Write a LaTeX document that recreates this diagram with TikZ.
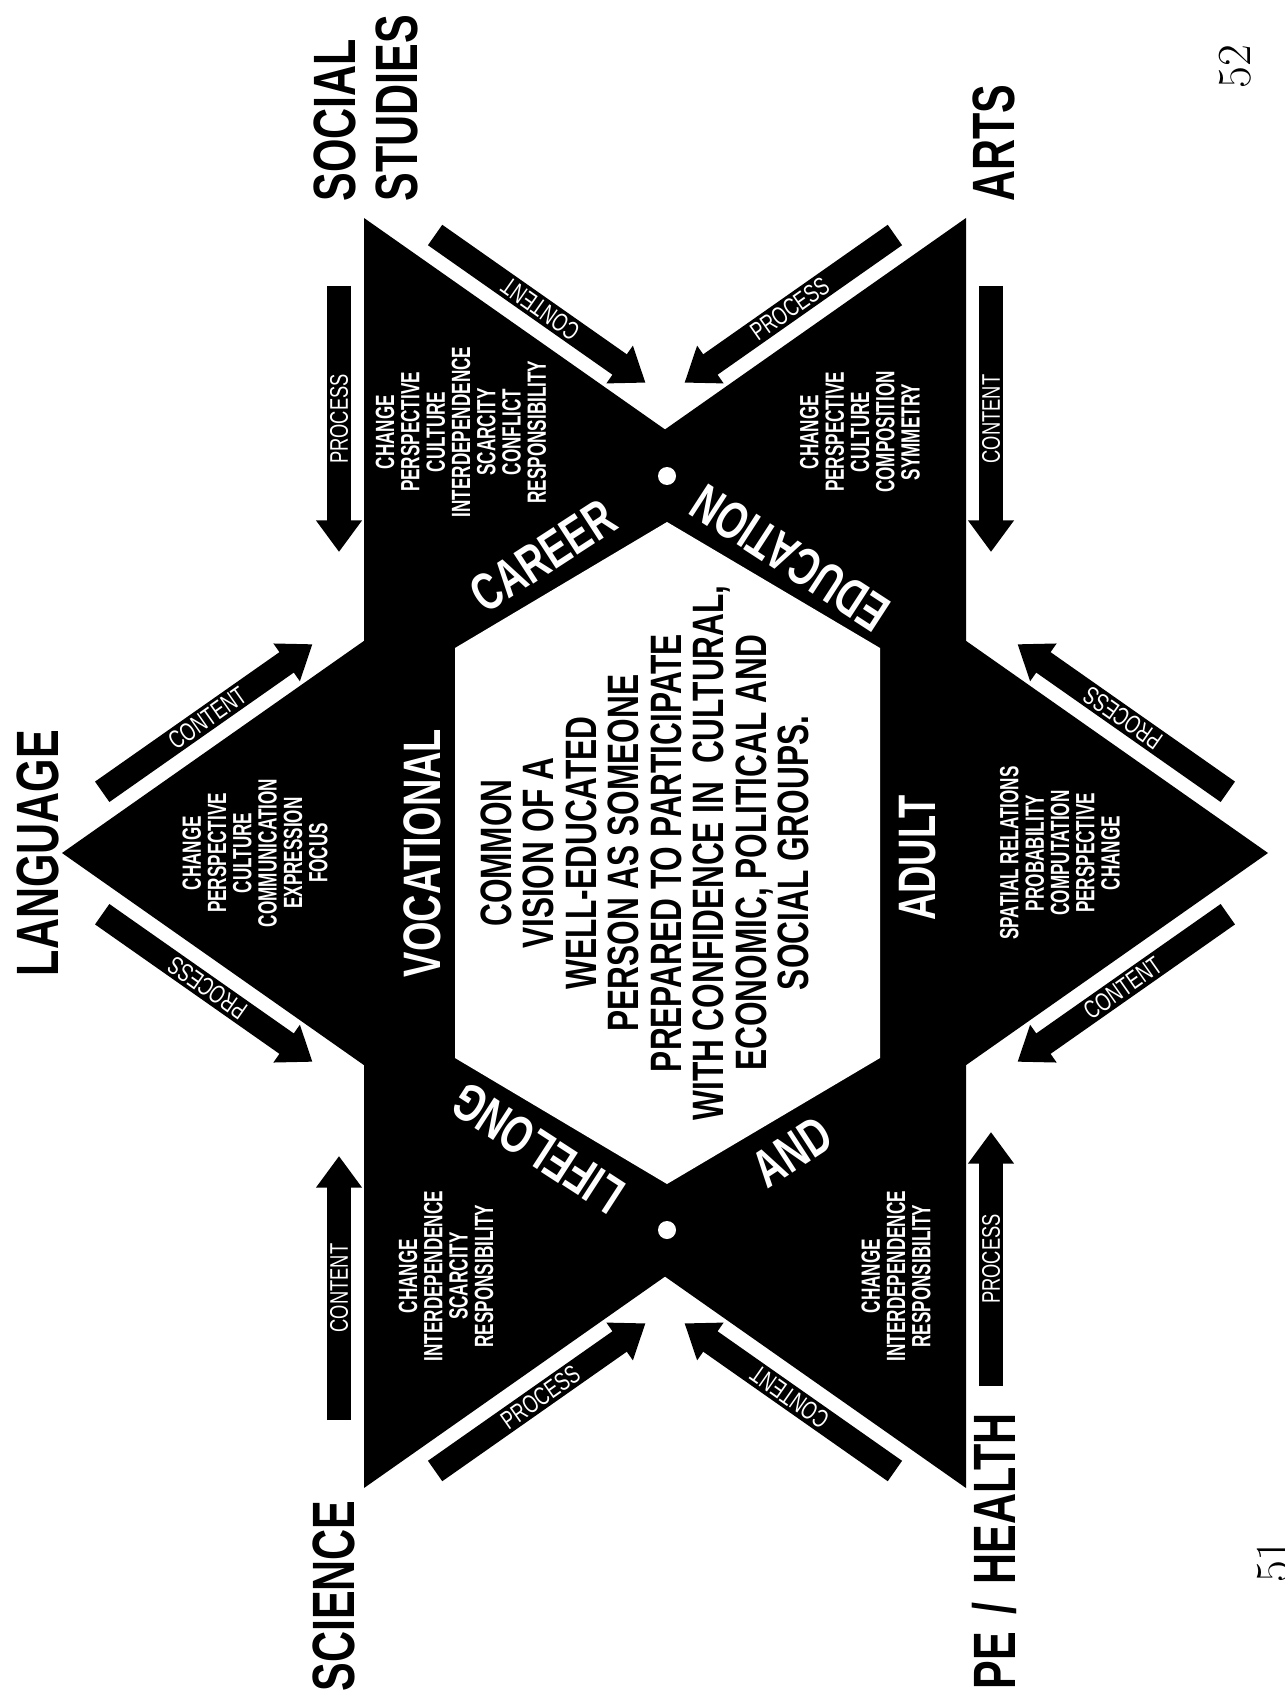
\documentclass[tikz,border=0pt]{standalone}
\usepackage{fontspec}
\newfontfamily\condfont[FakeStretch=0.72]{Liberation Sans}
\newfontfamily\narrowfont[FakeStretch=0.65]{Liberation Sans}
\usetikzlibrary{arrows.meta, positioning}

\begin{document}
\begin{tikzpicture}[
    x=0.02cm, y=-0.02cm,
    subject/.style={rotate=90, inner sep=0pt, font=\condfont\bfseries\fontsize{34}{35}\selectfont},
    topics/.style={rotate=90, text=white, align=center, inner sep=0pt, font=\narrowfont\bfseries\fontsize{15}{14.4}\selectfont},
    band/.style={text=white, inner sep=0pt, font=\condfont\bfseries\fontsize{30}{30}\selectfont},
    vision/.style={rotate=90, align=center, inner sep=0pt, font=\condfont\bfseries\fontsize{25}{24.2}\selectfont},
    flow/.style={line width=14.2pt, -{Triangle[length=18pt,width=25pt]}},
    flowlabel/.style={text=white, inner sep=0pt, pos=0.5, font=\condfont\fontsize{14.5}{14.5}\selectfont},
    dot/.style={circle, fill=white, inner sep=0pt, minimum size=0.36cm},
    pagenum/.style={rotate=90, inner sep=0pt, font=\fontsize{27}{27}\selectfont}
]
    \useasboundingbox (0,0) rectangle (1284,1699);
    \fill[white] (0,0) rectangle (1284,1699);

    % star
    \coordinate (tipLang) at (62,853);
    \coordinate (tipSoc) at (364,218);
    \coordinate (tipArts) at (966,218);
    \coordinate (tipMath) at (1268,853);
    \coordinate (tipPE) at (966,1488);
    \coordinate (tipSci) at (364,1488);
    \fill (tipLang) -- (tipArts) -- (tipPE) -- cycle;
    \fill (tipSoc) -- (tipMath) -- (tipSci) -- cycle;

    \fill[white] (667,522) -- (880,648) -- (880,1058) -- (667,1184) -- (455,1058) -- (455,648) -- cycle;
    \node[dot] (dotTop) at (667,476) {};
    \node[dot] (dotBot) at (667,1230) {};

    % arrows round the tips
    \coordinate (socP0) at (339,286);      \coordinate (socP1) at (339,552);
    \coordinate (socC0) at (435.1,235);    \coordinate (socC1) at (645.5,382.7);
    \coordinate (artsP0) at (894.9,235);   \coordinate (artsP1) at (684.5,382.7);
    \coordinate (artsC0) at (991,286);     \coordinate (artsC1) at (991,552);
    \coordinate (mathP0) at (1227.8,791.8); \coordinate (mathP1) at (1017.5,644.2);
    \coordinate (mathC0) at (1227.8,914.2); \coordinate (mathC1) at (1017.5,1061.8);
    \coordinate (peP0) at (991,1386);      \coordinate (peP1) at (991,1132);
    \coordinate (peC0) at (894.9,1471);    \coordinate (peC1) at (684.5,1323.3);
    \coordinate (sciP0) at (435.1,1471);   \coordinate (sciP1) at (645.5,1323.3);
    \coordinate (sciC0) at (339,1420);     \coordinate (sciC1) at (339,1156);
    \coordinate (langP0) at (102.2,914.2); \coordinate (langP1) at (312.5,1061.8);
    \coordinate (langC0) at (102.2,791.8); \coordinate (langC1) at (312.5,644.2);

    \draw[flow] (socP0) -- (socP1) node[flowlabel, rotate=90] {PROCESS};
    \draw[flow] (socC0) -- (socC1) node[flowlabel, rotate=144.9] {CONTENT};
    \draw[flow] (artsP0) -- (artsP1) node[flowlabel, rotate=35.1] {PROCESS};
    \draw[flow] (artsC0) -- (artsC1) node[flowlabel, rotate=90] {CONTENT};
    \draw[flow] (mathP0) -- (mathP1) node[flowlabel, rotate=144.9] {PROCESS};
    \draw[flow] (mathC0) -- (mathC1) node[flowlabel, rotate=35.1] {CONTENT};
    \draw[flow] (peP0) -- (peP1) node[flowlabel, rotate=90] {PROCESS};
    \draw[flow] (peC0) -- (peC1) node[flowlabel, rotate=144.9] {CONTENT};
    \draw[flow] (sciP0) -- (sciP1) node[flowlabel, rotate=35.1] {PROCESS};
    \draw[flow] (sciC0) -- (sciC1) node[flowlabel, rotate=90] {CONTENT};
    \draw[flow] (langP0) -- (langP1) node[flowlabel, rotate=144.9] {PROCESS};
    \draw[flow] (langC0) -- (langC1) node[flowlabel, rotate=35.1] {CONTENT};

    % subjects
    \node[subject] (lang) at (38,853) {LANGUAGE};
    \node[subject, align=left, anchor=west] (soc) at (366,202) {SOCIAL\\STUDIES};
    \node[subject, anchor=west] (arts) at (994,202) {ARTS};
    \node[subject] (sci) at (334,1596) {SCIENCE};
    \node[subject, anchor=west] (pe) at (994,1690) {PE\hspace{0.3em}/\hspace{0.3em}HEALTH};

    \node[topics] (langTopics) at (255,853) {CHANGE\\PERSPECTIVE\\CULTURE\\COMMUNICATION\\EXPRESSION\\FOCUS};
    \node[topics] (socTopics) at (461,432) {CHANGE\\PERSPECTIVE\\CULTURE\\INTERDEPENDENCE\\SCARCITY\\CONFLICT\\RESPONSIBILITY};
    \node[topics] (artsTopics) at (860,432) {CHANGE\\PERSPECTIVE\\CULTURE\\COMPOSITION\\SYMMETRY};
    \node[topics] (mathTopics) at (1060,853) {SPATIAL RELATIONS\\PROBABILITY\\COMPUTATION\\PERSPECTIVE\\CHANGE};
    \node[topics] (sciTopics) at (446,1276) {CHANGE\\INTERDEPENDENCE\\SCARCITY\\RESPONSIBILITY};
    \node[topics] (peTopics) at (896,1276) {CHANGE\\INTERDEPENDENCE\\RESPONSIBILITY};

    % words round the hexagon
    \node[band, rotate=90] (voc) at (422,853) {VOCATIONAL};
    \node[band, rotate=90] (adult) at (918,858) {ADULT};
    \node[band, rotate=33] (career) at (543,556) {CAREER};
    \node[band, rotate=147] (educ) at (790,558) {EDUCATION};
    \node[band, rotate=147] (life) at (538,1148) {LIFELONG};
    \node[band, rotate=33] (andw) at (792,1152) {AND};

    \node[vision] (goal) at (645,853) {COMMON\\VISION OF A\\WELL-EDUCATED\\PERSON AS SOMEONE\\PREPARED TO PARTICIPATE\\WITH CONFIDENCE IN\ \ CULTURAL,\\ECONOMIC, POLITICAL AND\\SOCIAL GROUPS.};

    \node[pagenum] (pgRight) at (1235,67) {52};
    \node[pagenum] (pgLeft) at (1273,1561) {51};
\end{tikzpicture}
\end{document}
